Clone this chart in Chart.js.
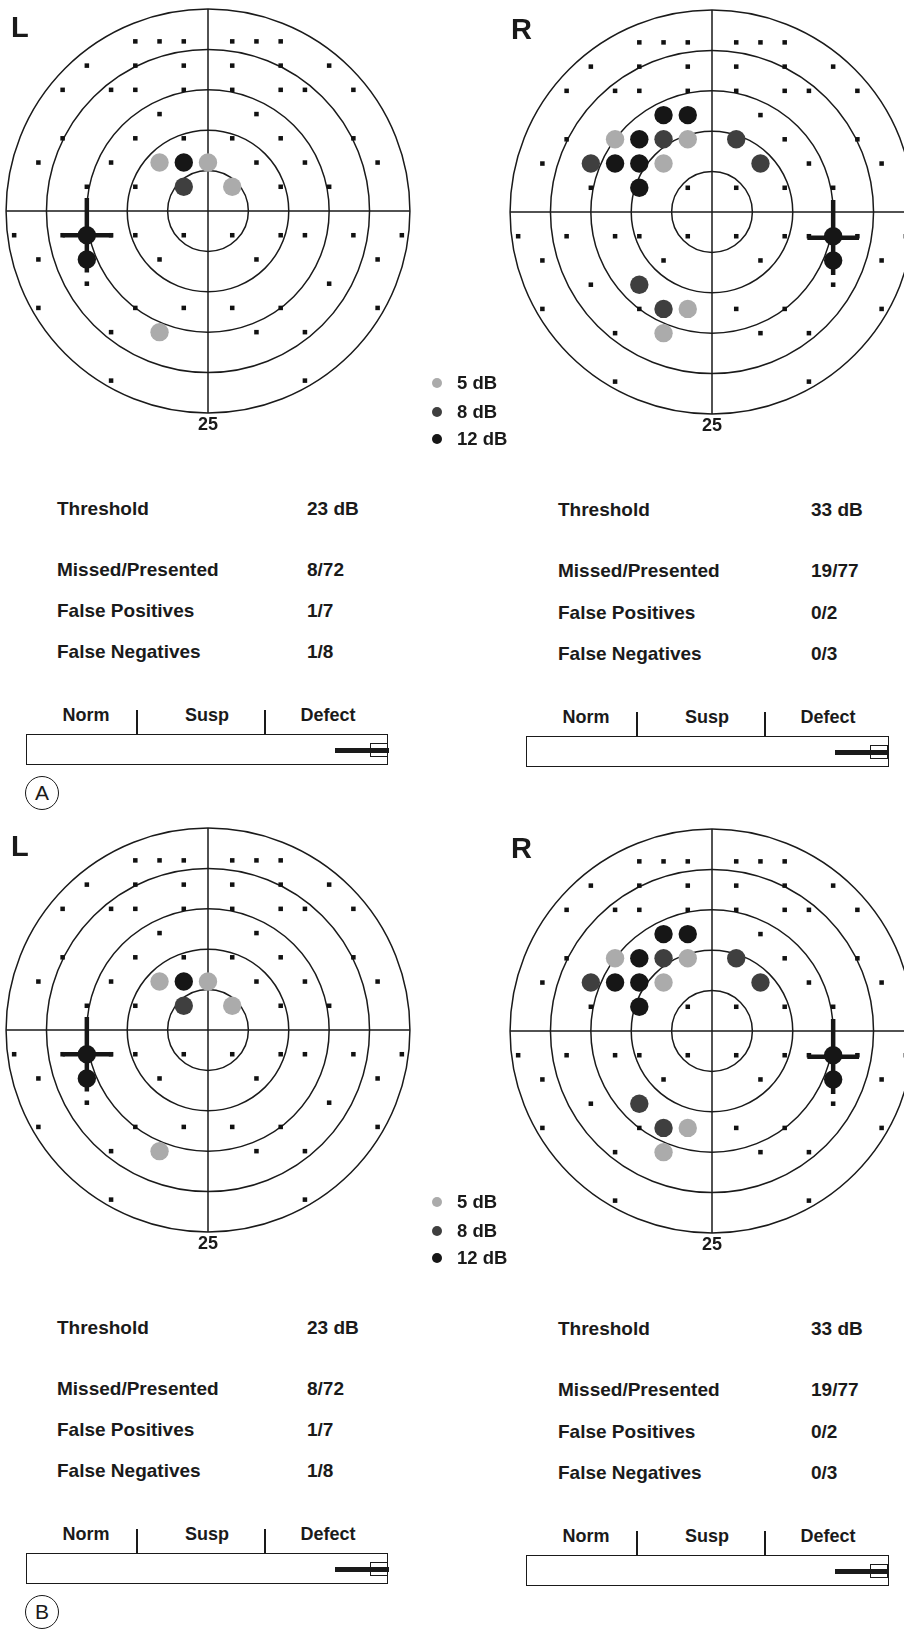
<!DOCTYPE html>
<html>
<head>
<meta charset="utf-8">
<script src="https://cdn.jsdelivr.net/npm/chart.js@4.4.1/dist/chart.umd.min.js"></script>
<style>
  html, body { margin: 0; padding: 0; background: #fff; }
  body { width: 904px; height: 1629px; overflow: hidden; position: relative;
         font-family: "Liberation Sans", Arial, sans-serif; font-weight: bold; color: #1a1a1a; }
  .field { position: absolute; }
  .txt { position: absolute; line-height: 1; white-space: nowrap; transform: translateY(-50%); }
  .ctr { transform: translate(-50%, -50%); }
  .blk { position: absolute; background: #1a1a1a; }
  .box { position: absolute; box-sizing: border-box; border: 1.7px solid #1a1a1a; }
  .dot { position: absolute; width: 10px; height: 10px; border-radius: 50%; }
  .tag { position: absolute; box-sizing: border-box; width: 34px; height: 34px; border-radius: 50%;
         border: 1.5px solid #1a1a1a; font-weight: normal; font-size: 21px; line-height: 32px; text-align: center; }
</style>
</head>
<body>
<script>
// rings of the field (degrees) and the radius label
const ringRadii = [5, 10, 15, 20, 25];

// tested points that were seen, per row: [y, [x...]] (degrees)
const leftSeen = [
  [21, [-9, -6, -3, 3, 6, 9]],
  [18, [-15, -9, -3, 3, 9, 15]],
  [15, [-18, -12, -9, -3, 3, 9, 12, 18]],
  [12, [-6, 6]],
  [9, [-18, -9, -3, 3, 9, 18]],
  [6, [-21, -12, 6, 12, 21]],
  [3, [-15, -9, 9, 15]],
  [-3, [-24, -18, -12, -9, -3, 3, 9, 12, 18, 24]],
  [-6, [-21, -6, 6, 21]],
  [-9, [-15, 15]],
  [-12, [-21, -9, -3, 3, 9, 21]],
  [-15, [-12, 6, 12]],
  [-21, [-12, 12]]
];
const rightSeen = [
  [21, [-9, -6, -3, 3, 6, 9]],
  [18, [-15, -9, -3, 3, 9, 15]],
  [15, [-18, -12, -9, -3, 3, 9, 12, 18]],
  [12, [6]],
  [9, [-18, 9, 18]],
  [6, [-21, 12, 21]],
  [3, [-15, -3, 3, 9, 15]],
  [-3, [-24, -18, -12, -9, -3, 3, 9, 12, 18, 24]],
  [-6, [-21, -6, 6, 21]],
  [-9, [-15, 15]],
  [-12, [-21, -9, 3, 9, 21]],
  [-15, [-12, 6, 12]],
  [-21, [-12, 12]]
];

// missed points [x, y] by stimulus level
const leftMissed5 = [[-6, 6], [0, 6], [3, 3], [-6, -15]];
const leftMissed8 = [[-3, 3]];
const leftMissed12 = [[-3, 6], [-15, -3], [-15, -6]];
const rightMissed5 = [[-12, 9], [-3, 9], [-6, 6], [-3, -12], [-6, -15]];
const rightMissed8 = [[-6, 9], [3, 9], [-15, 6], [6, 6], [-9, -9], [-6, -12]];
const rightMissed12 = [[-6, 12], [-3, 12], [-9, 9], [-12, 6], [-9, 6], [-9, 3], [15, -3], [15, -6]];

// blind spot cross arms [x, y]
const leftBlindH = [[-18, -3], [-11.8, -3]];
const leftBlindV = [[-15, 1.6], [-15, -7.6]];
const rightBlindH = [[11.8, -3.2], [18.2, -3.2]];
const rightBlindV = [[15, 1.5], [15, -7.8]];

const legendLabels = ['5 dB', '8 dB', '12 dB'];
const levelColors = ['#ababab', '#3f3f3f', '#161616'];

const statLabels = ['Threshold', 'Missed/Presented', 'False Positives', 'False Negatives'];
const leftStats = ['23 dB', '8/72', '1/7', '1/8'];
const rightStats = ['33 dB', '19/77', '0/2', '0/3'];
const scaleLabels = ['Norm', 'Susp', 'Defect'];

const panelOffsets = [0, 819];
const panelTags = ['A', 'B'];

function rowsToPoints(rows) {
  return rows.flatMap(([y, xs]) => xs.map(x => ({ x: x, y: y })));
}
function pairsToPoints(pairs) {
  return pairs.map(([x, y]) => ({ x: x, y: y }));
}

const ringsPlugin = {
  id: 'rings',
  beforeDatasetsDraw(chart) {
    const { ctx, scales: { x, y } } = chart;
    const cx = x.getPixelForValue(0), cy = y.getPixelForValue(0);
    const R = ringRadii[ringRadii.length - 1];
    ctx.save();
    ctx.strokeStyle = '#1a1a1a';
    ctx.lineWidth = 1.5;
    ringRadii.forEach(r => {
      const rp = x.getPixelForValue(r) - cx;
      ctx.beginPath();
      ctx.arc(cx, cy, rp, 0, Math.PI * 2);
      ctx.stroke();
    });
    ctx.beginPath();
    ctx.moveTo(x.getPixelForValue(-R), cy);
    ctx.lineTo(x.getPixelForValue(R), cy);
    ctx.moveTo(cx, y.getPixelForValue(R));
    ctx.lineTo(cx, y.getPixelForValue(-R));
    ctx.stroke();
    ctx.restore();
  },
  afterDraw(chart) {
    const { ctx, scales: { x, y } } = chart;
    const R = ringRadii[ringRadii.length - 1];
    ctx.save();
    ctx.fillStyle = '#1a1a1a';
    ctx.font = 'bold 18px "Liberation Sans", Arial, sans-serif';
    ctx.textAlign = 'center';
    ctx.textBaseline = 'middle';
    ctx.fillText(String(R), x.getPixelForValue(0), y.getPixelForValue(-R) + 12);
    ctx.restore();
  }
};

function fieldChart(left, top, seen, m5, m8, m12, blindH, blindV) {
  const canvas = document.createElement('canvas');
  canvas.className = 'field';
  canvas.width = 440;
  canvas.height = 460;
  canvas.style.left = left + 'px';
  canvas.style.top = top + 'px';
  document.body.appendChild(canvas);

  const spot = { label: 'blind spot', showLine: true, borderColor: '#161616', borderWidth: 4.5,
                 pointRadius: 0, borderCapStyle: 'butt' };

  return new Chart(canvas.getContext('2d'), {
    type: 'scatter',
    data: {
      datasets: [
        { label: legendLabels[2], data: pairsToPoints(m12), pointStyle: 'circle', pointRadius: 9.2,
          backgroundColor: levelColors[2], borderWidth: 0 },
        { label: legendLabels[1], data: pairsToPoints(m8), pointStyle: 'circle', pointRadius: 9.2,
          backgroundColor: levelColors[1], borderWidth: 0 },
        { label: legendLabels[0], data: pairsToPoints(m5), pointStyle: 'circle', pointRadius: 9.2,
          backgroundColor: levelColors[0], borderWidth: 0 },
        Object.assign({ data: pairsToPoints(blindH) }, spot),
        Object.assign({ data: pairsToPoints(blindV) }, spot),
        { label: 'seen', data: rowsToPoints(seen), pointStyle: 'rect', pointRadius: 3.2,
          backgroundColor: '#111', borderWidth: 0 }
      ]
    },
    options: {
      responsive: false,
      animation: false,
      events: [],
      layout: { padding: { left: 10, right: 10, top: 10, bottom: 30 } },
      scales: {
        x: { type: 'linear', min: -26, max: 26, display: false },
        y: { type: 'linear', min: -26, max: 26, display: false }
      },
      plugins: { legend: { display: false }, tooltip: { enabled: false } }
    },
    plugins: [ringsPlugin]
  });
}

function addText(text, x, y, size, cls) {
  const d = document.createElement('div');
  d.className = 'txt' + (cls ? ' ' + cls : '');
  d.textContent = text;
  d.style.left = x + 'px';
  d.style.top = y + 'px';
  d.style.fontSize = size + 'px';
  document.body.appendChild(d);
  return d;
}
function addBlock(cls, x, y, w, h) {
  const d = document.createElement('div');
  d.className = cls;
  d.style.left = x + 'px';
  d.style.top = y + 'px';
  d.style.width = w + 'px';
  d.style.height = h + 'px';
  document.body.appendChild(d);
  return d;
}

function scaleBar(x0, y0, w, off) {
  const y = y0 + off;
  addBlock('box', x0, y, w, 31);
  addBlock('blk', x0 + 110, y - 24, 1.7, 24);
  addBlock('blk', x0 + 238, y - 24, 1.7, 24);
  addText(scaleLabels[0], x0 + 60, y - 19, 18, 'ctr');
  addText(scaleLabels[1], x0 + 181, y - 19, 18, 'ctr');
  addText(scaleLabels[2], x0 + 302, y - 19, 18, 'ctr');
  // defect indicator
  addBlock('blk', x0 + 309, y + 14, 54, 4.5);
  addBlock('box', x0 + 344, y + 9, 18, 14);
}

function statBlock(x, valueX, rowsY, values) {
  statLabels.forEach((lab, i) => {
    addText(lab, x, rowsY[i], 19);
    addText(values[i], valueX, rowsY[i], 19);
  });
}

panelOffsets.forEach((off, p) => {
  fieldChart(-12, off - 9, leftSeen, leftMissed5, leftMissed8, leftMissed12, leftBlindH, leftBlindV);
  fieldChart(492, off - 8, rightSeen, rightMissed5, rightMissed8, rightMissed12, rightBlindH, rightBlindV);

  addText('L', 11, off + 27, 29);
  addText('R', 511, off + 29, 29);

  // legend
  const legendY = [383, 412, 439];
  legendLabels.forEach((lab, i) => {
    const d = addBlock('dot', 432, off + legendY[i] - 5, 10, 10);
    d.style.background = levelColors[i];
    addText(lab, 457, off + legendY[i], 18.5);
  });

  statBlock(57, 307, [508, 569, 610, 651].map(v => v + off), leftStats);
  statBlock(558, 811, [509, 570, 612, 653].map(v => v + off), rightStats);

  scaleBar(26, 734, 362, off);
  scaleBar(526, 736, 363, off);

  const t = addBlock('tag', 25, off + 776, 34, 34);
  t.textContent = panelTags[p];
});
</script>
</body>
</html>
